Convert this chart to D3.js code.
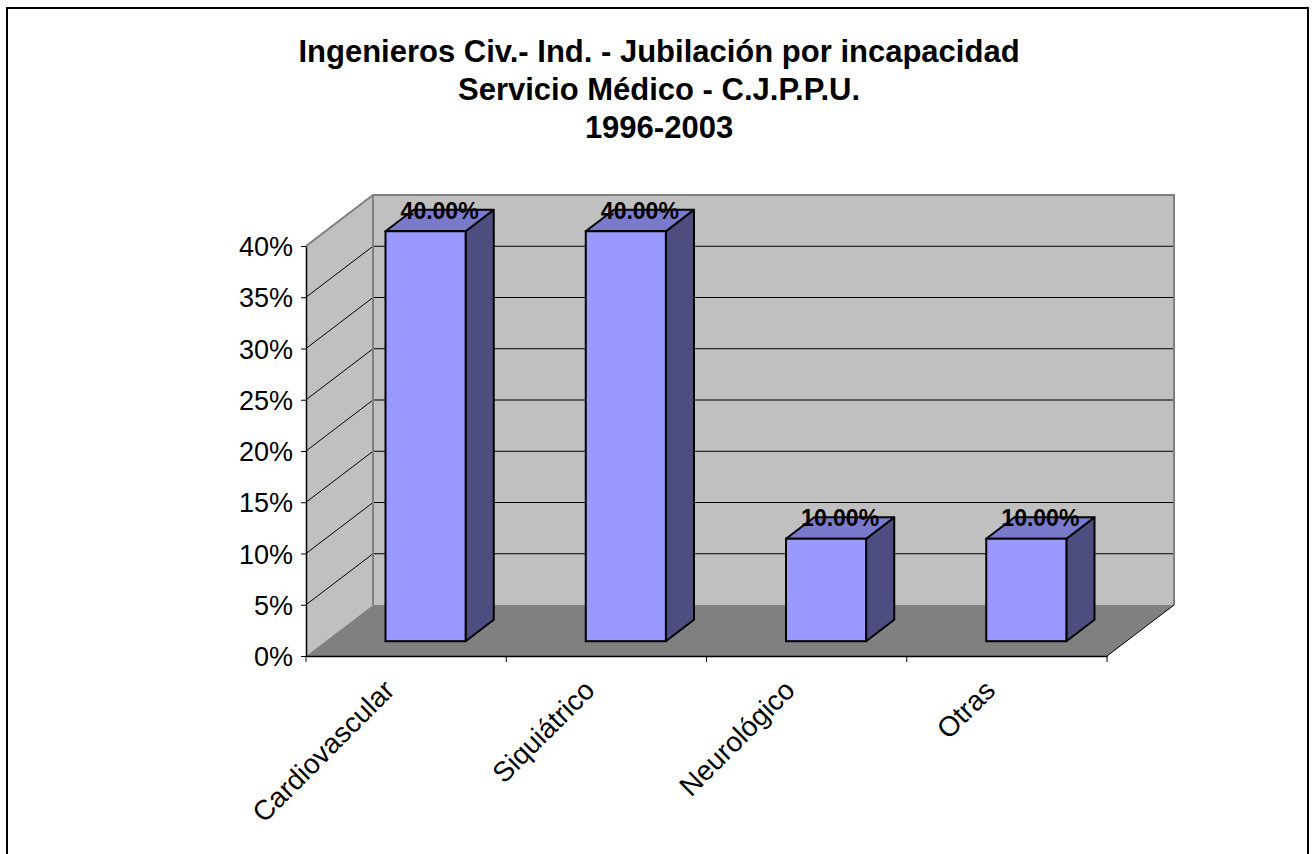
<!DOCTYPE html>
<html>
<head>
<meta charset="utf-8">
<script src="https://cdn.jsdelivr.net/npm/d3@7"></script>
<style>
  body { margin: 0; background: #fff; }
  text { font-family: Arial, "Liberation Sans", sans-serif; }
</style>
</head>
<body>
<div id="chart"></div>
<script>
'use strict';
var titleLines = ['Ingenieros Civ.- Ind. - Jubilación por incapacidad', 'Servicio Médico - C.J.P.P.U.', '1996-2003'];
var categories = ['Cardiovascular', 'Siquiátrico', 'Neurológico', 'Otras'];
var values = [0.40, 0.40, 0.10, 0.10];
var yTicks = [0, 0.05, 0.10, 0.15, 0.20, 0.25, 0.30, 0.35, 0.40];

var width = 1316,
    height = 854;

// front plane of the plot, and the depth of the 3d box
var plotLeft = 306, plotRight = 1107, plotTop = 246, plotBottom = 656;
var depthX = 67, depthY = -51;
var barFront = 0.29, barBack = 0.71;

var svg = d3.select('#chart').append('svg')
    .attr('width', width)
    .attr('height', height);

svg.append('rect')
    .attr('x', 7).attr('y', 8)
    .attr('width', 1301).attr('height', 900)
    .attr('fill', 'none').attr('stroke', '#000').attr('stroke-width', 2);

var x = d3.scaleBand().domain(categories).range([plotLeft, plotRight]).padding(0);
var y = d3.scaleLinear().domain([0, 0.4]).range([plotBottom, plotTop]);

var pts = function (arr) {
    return arr.map(function (p) { return p[0] + ',' + p[1]; }).join(' ');
};

// side wall
svg.append('polygon')
    .attr('points', pts([[plotLeft, y(0.4)], [plotLeft + depthX, y(0.4) + depthY], [plotLeft + depthX, y(0) + depthY], [plotLeft, y(0)]]))
    .attr('fill', '#c0c0c0');
// back wall
svg.append('rect')
    .attr('x', plotLeft + depthX).attr('y', y(0.4) + depthY)
    .attr('width', plotRight - plotLeft).attr('height', y(0) - y(0.4))
    .attr('fill', '#c0c0c0');
// floor
svg.append('polygon')
    .attr('points', pts([[plotLeft, y(0)], [plotRight, y(0)], [plotRight + depthX, y(0) + depthY], [plotLeft + depthX, y(0) + depthY]]))
    .attr('fill', '#808080');

// gridlines
var grid = yTicks.filter(function (t) { return t > 0 && t < 0.4; });
svg.selectAll('line.grid-back').data(grid).enter().append('line')
    .attr('class', 'grid-back')
    .attr('x1', plotLeft + depthX).attr('x2', plotRight + depthX)
    .attr('y1', function (d) { return y(d) + depthY; })
    .attr('y2', function (d) { return y(d) + depthY; })
    .attr('stroke', '#000').attr('stroke-width', 1);
svg.selectAll('line.grid-side').data(grid).enter().append('line')
    .attr('class', 'grid-side')
    .attr('x1', plotLeft).attr('x2', plotLeft + depthX)
    .attr('y1', function (d) { return y(d); })
    .attr('y2', function (d) { return y(d) + depthY; })
    .attr('stroke', '#000').attr('stroke-width', 1);

// wall borders
svg.append('polyline')
    .attr('points', pts([[plotLeft, y(0.4)], [plotLeft + depthX, y(0.4) + depthY], [plotRight + depthX, y(0.4) + depthY], [plotRight + depthX, y(0) + depthY]]))
    .attr('fill', 'none').attr('stroke', '#808080').attr('stroke-width', 2);
svg.append('line')
    .attr('x1', plotLeft + depthX).attr('x2', plotLeft + depthX)
    .attr('y1', y(0.4) + depthY).attr('y2', y(0) + depthY)
    .attr('stroke', '#808080').attr('stroke-width', 2);
svg.append('line')
    .attr('x1', plotRight).attr('y1', y(0))
    .attr('x2', plotRight + depthX).attr('y2', y(0) + depthY)
    .attr('stroke', '#000').attr('stroke-width', 1);

// bars
var bars = svg.selectAll('g.bar').data(categories).enter().append('g').attr('class', 'bar');
var barW = x.bandwidth() * 0.4;
bars.each(function (c, i) {
    var g = d3.select(this);
    var fx = x(c) + x.bandwidth() / 2 + barFront * depthX - barW / 2;
    var fy0 = y(0) + barFront * depthY;
    var fy1 = y(values[i]) + barFront * depthY;
    var bx = (barBack - barFront) * depthX, by = (barBack - barFront) * depthY;
    g.append('polygon')
        .attr('points', pts([[fx + barW, fy1], [fx + barW + bx, fy1 + by], [fx + barW + bx, fy0 + by], [fx + barW, fy0]]))
        .attr('fill', '#4d4d80').attr('stroke', '#000').attr('stroke-width', 2).attr('stroke-linejoin', 'round');
    g.append('polygon')
        .attr('points', pts([[fx, fy1], [fx + bx, fy1 + by], [fx + barW + bx, fy1 + by], [fx + barW, fy1]]))
        .attr('fill', '#7a7acc').attr('stroke', '#000').attr('stroke-width', 2).attr('stroke-linejoin', 'round');
    g.append('rect')
        .attr('x', fx).attr('y', fy1)
        .attr('width', barW).attr('height', fy0 - fy1)
        .attr('fill', '#9999ff').attr('stroke', '#000').attr('stroke-width', 2);
    g.append('text')
        .attr('x', fx + barW / 2 + bx / 2)
        .attr('y', fy1 + by / 2 - 2)
        .attr('text-anchor', 'middle')
        .attr('font-size', 23).attr('font-weight', 'bold')
        .text((values[i] * 100).toFixed(2) + '%');
});

// axes
var yAxis = svg.append('g')
    .attr('transform', 'translate(' + plotLeft + ',0)')
    .call(d3.axisLeft(y).tickValues(yTicks).tickFormat(d3.format('.0%')).tickSize(5).tickSizeOuter(0));
yAxis.select('.domain').attr('stroke', '#000').attr('stroke-width', 1.5);
yAxis.selectAll('text').attr('font-size', 27).attr('font-family', 'Arial, "Liberation Sans", sans-serif').attr('fill', '#000').attr('x', -13).attr('dy', '0.36em');

var xAxis = svg.append('g')
    .attr('transform', 'translate(0,' + plotBottom + ')')
    .call(d3.axisBottom(x).tickSize(0).tickFormat(''));
xAxis.select('.domain').attr('stroke', '#000').attr('stroke-width', 1.5);
svg.selectAll('line.xtick').data(d3.range(categories.length + 1)).enter().append('line')
    .attr('class', 'xtick')
    .attr('x1', function (d) { return plotLeft + d * x.step(); })
    .attr('x2', function (d) { return plotLeft + d * x.step(); })
    .attr('y1', plotBottom).attr('y2', plotBottom + 6)
    .attr('stroke', '#000');

svg.selectAll('text.cat').data(categories).enter().append('text')
    .attr('class', 'cat')
    .attr('transform', function (d) { return 'translate(' + (x(d) + x.bandwidth() / 2 - 10) + ',' + (plotBottom + 36) + ') rotate(-45)'; })
    .attr('text-anchor', 'end')
    .attr('font-size', 28)
    .text(function (d) { return d; });

// title
svg.selectAll('text.title').data(titleLines).enter().append('text')
    .attr('class', 'title')
    .attr('x', 659)
    .attr('y', function (d, i) { return 62 + i * 38; })
    .attr('text-anchor', 'middle')
    .attr('font-size', 31).attr('font-weight', 'bold')
    .text(function (d) { return d; });
</script>
</body>
</html>
